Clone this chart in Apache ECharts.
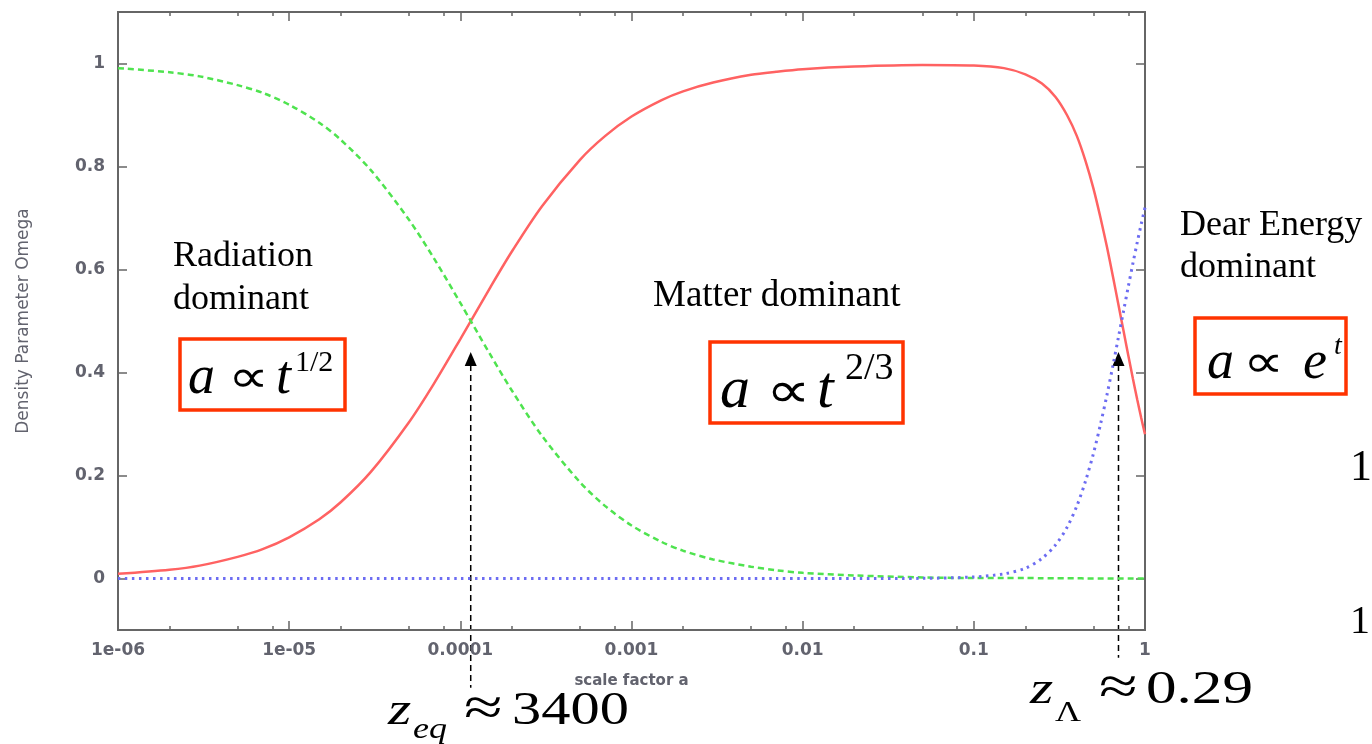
<!DOCTYPE html>
<html>
<head>
<meta charset="utf-8">
<script src="https://cdn.jsdelivr.net/npm/echarts@6/dist/echarts.min.js"></script>
<style>
html,body{margin:0;padding:0;background:#fff}
#main{width:1372px;height:744px}
</style>
</head>
<body>
<div id="main"></div>
<script>
// scale factor a (x) and the three density parameters
var scaleFactor = [1e-6, 2e-6, 3e-6, 5e-6, 7e-6, 1e-5, 1.5e-5, 2e-5, 3e-5, 5e-5, 7e-5,
    1e-4, 1.5e-4, 2e-4, 3e-4, 5e-4, 7e-4, 1e-3, 1.5e-3, 2e-3, 3e-3, 5e-3, 7e-3,
    0.01, 0.02, 0.05, 0.1, 0.15, 0.2, 0.25, 0.3, 0.35, 0.4, 0.45, 0.5, 0.55, 0.6,
    0.65, 0.7, 0.75, 0.8, 0.85, 0.9, 0.95, 1];
var omegaMatter = [0.009, 0.017, 0.025, 0.042, 0.057, 0.080, 0.115, 0.148, 0.207, 0.303, 0.378,
    0.465, 0.566, 0.635, 0.723, 0.813, 0.859, 0.897, 0.929, 0.946, 0.963, 0.978, 0.984,
    0.989, 0.994, 0.997, 0.996, 0.991, 0.979, 0.961, 0.935, 0.900, 0.859, 0.810, 0.757, 0.700, 0.643,
    0.586, 0.531, 0.480, 0.432, 0.388, 0.348, 0.312, 0.280];
var omegaRadiation = [0.991, 0.983, 0.975, 0.958, 0.943, 0.920, 0.885, 0.852, 0.793, 0.697, 0.622,
    0.535, 0.434, 0.365, 0.277, 0.187, 0.141, 0.103, 0.071, 0.054, 0.037, 0.023, 0.016,
    0.011, 0.006, 0.002, 0.001, 0.001, 0.001, 0.0005, 0.0004, 0.0003, 0.0003, 0.0002, 0.0002, 0.0002, 0.0002,
    0.0001, 0.0001, 0.0001, 0.0001, 0.0001, 0.0001, 0.0001, 0.0001];
var omegaLambda = [0, 0, 0, 0, 0, 0, 0, 0, 0, 0, 0,
    0, 0, 0, 0, 0, 0, 0, 0, 0, 0, 0, 0,
    0, 0, 0.0003, 0.003, 0.009, 0.020, 0.039, 0.065, 0.099, 0.141, 0.190, 0.243, 0.300, 0.357,
    0.414, 0.469, 0.520, 0.568, 0.612, 0.652, 0.688, 0.720];

var xMajorTicks = [1e-6, 1e-5, 1e-4, 1e-3, 1e-2, 1e-1, 1];
var xMinorTicks = [2e-6, 5e-6, 8e-6, 2e-5, 5e-5, 8e-5, 2e-4, 5e-4, 8e-4,
    2e-3, 5e-3, 8e-3, 2e-2, 5e-2, 8e-2, 0.2, 0.5, 0.8];
var xTickLabels = ['1e-06', '1e-05', '0.0001', '0.001', '0.01', '0.1', '1'];
var yTicks = [0, 0.2, 0.4, 0.6, 0.8, 1];
var yTickLabels = ['0', '0.2', '0.4', '0.6', '0.8', '1'];

// equality epochs marked with arrows (scale factor)
var arrowA = [1.15e-4, 0.70];

function pairs(ys) {
    return scaleFactor.map(function (a, i) { return [a, ys[i]]; });
}

var axisGray = '#666';
var labelFont = {fontFamily: 'DejaVu Sans', fontSize: 17, fontWeight: 'bold', color: '#62636e'};

function xAx(pos, ticks, len, withLabels) {
    return {
        type: 'log', logBase: 10, min: 1e-6, max: 1, position: pos,
        axisLine: {show: true, onZero: false, lineStyle: {color: axisGray, width: 2}},
        axisTick: {show: true, inside: true, length: len, customValues: ticks,
            lineStyle: {color: axisGray, width: 1.5}},
        axisLabel: withLabels ? Object.assign({
            show: true, margin: 12, customValues: xMajorTicks,
            formatter: function (v) { return xTickLabels[Math.round(Math.log10(v)) + 6]; }
        }, labelFont) : {show: false},
        splitLine: {show: false},
        name: withLabels ? 'scale factor a' : '',
        nameLocation: 'middle', nameGap: 44,
        nameTextStyle: {fontFamily: 'DejaVu Sans', fontSize: 15, fontWeight: 'bold', color: '#62636e'}
    };
}

function yAx(pos, withLabels) {
    return {
        type: 'value', min: -0.1, max: 1.1, position: pos,
        axisLine: {show: true, onZero: false, lineStyle: {color: axisGray, width: 2}},
        axisTick: {show: true, inside: true, length: 9, customValues: yTicks,
            lineStyle: {color: axisGray, width: 1.5}},
        axisLabel: withLabels ? Object.assign({
            show: true, margin: 13, customValues: yTicks,
            formatter: function (v) { return yTickLabels[Math.round(v * 5)]; }
        }, labelFont) : {show: false},
        splitLine: {show: false},
        name: withLabels ? 'Density Parameter Omega' : '',
        nameLocation: 'middle', nameGap: 86,
        nameTextStyle: {fontFamily: 'DejaVu Sans', fontSize: 17, color: '#62636e'}
    };
}

var chart = echarts.init(document.getElementById('main'));
var option = {
    backgroundColor: '#fff',
    animation: false,
    grid: {left: 118, right: 227, top: 12, bottom: 114},
    xAxis: [
        xAx('bottom', xMajorTicks, 9, true),
        xAx('bottom', xMinorTicks, 4, false),
        xAx('top', xMajorTicks, 9, false),
        xAx('top', xMinorTicks, 4, false)
    ],
    yAxis: [yAx('left', true), yAx('right', false)],
    series: [
        {
            name: 'matter', type: 'line', data: pairs(omegaMatter), showSymbol: false, smooth: 0.3,
            lineStyle: {color: '#ff6262', width: 2.5}
        },
        {
            name: 'radiation', type: 'line', data: pairs(omegaRadiation), showSymbol: false, smooth: 0.3,
            lineStyle: {color: '#4fe34f', width: 2.5, type: [6, 4]}
        },
        {
            name: 'dark energy', type: 'line', data: pairs(omegaLambda), showSymbol: false, smooth: 0.3,
            lineStyle: {color: '#6c6cf2', width: 3, type: [2.5, 4.5]}
        }
    ]
};
chart.setOption(option);

// annotations
var serif = '"Liberation Serif", "Times New Roman", serif';
function txt(x, base, str, size, italic, sx) {
    return {
        type: 'text', x: x, y: base - 0.34 * size, scaleX: sx || 1,
        style: {
            text: str, fill: '#000', align: 'left', verticalAlign: 'middle',
            font: (italic ? 'italic ' : '') + size + 'px ' + serif
        }
    };
}
function box(x, y, w, h) {
    return {type: 'rect', shape: {x: x, y: y, width: w, height: h},
        style: {fill: 'none', stroke: '#ff3300', lineWidth: 3.5}};
}
function arrow(a, tipW, endW) {
    var tip = chart.convertToPixel({seriesIndex: 0}, [a, tipW]);
    var end = chart.convertToPixel({seriesIndex: 0}, [a, endW]);
    return [
        {type: 'line', shape: {x1: tip[0], y1: tip[1] + 13, x2: end[0], y2: end[1]},
            style: {stroke: '#000', lineWidth: 1.5, lineDash: [6, 4]}},
        {type: 'polygon', shape: {points: [[tip[0], tip[1]], [tip[0] - 6, tip[1] + 14], [tip[0] + 6, tip[1] + 14]]},
            style: {fill: '#000'}}
    ];
}

var g = [];
g.push(txt(173, 269, 'Radiation', 36));
g.push(txt(173, 312, 'dominant', 36));
g.push(box(180, 339, 165, 71));
g.push(txt(188, 397, 'a', 54, true));
g.push(txt(228, 396, '\u221D', 46, false, 1.25));
g.push(txt(276, 397, 't', 54, true));
g.push(txt(295, 373, '1/2', 30));

g.push(txt(653, 309, 'Matter dominant', 37));
g.push(box(710, 342, 193, 81));
g.push(txt(720, 412, 'a', 60, true));
g.push(txt(766, 411, '\u221D', 50, false, 1.25));
g.push(txt(817, 412, 't', 60, true));
g.push(txt(845, 382, '2/3', 38));

g.push(txt(1180, 238, 'Dear Energy', 36));
g.push(txt(1180, 280, 'dominant', 36));
g.push(box(1195, 318, 151, 76));
g.push(txt(1207, 382, 'a', 54, true));
g.push(txt(1243, 381, '\u221D', 46, false, 1.25));
g.push(txt(1303, 382, 'e', 54, true));
g.push(txt(1334, 356, 't', 28, true));

g.push(txt(1350, 483, '1', 44));
g.push(txt(1350, 636, '1', 40));

g.push(txt(388, 728, 'z', 46, true, 1.3));
g.push(txt(413, 740, 'eq', 30, true, 1.2));
g.push(txt(464, 729, '\u2248', 54, false, 1.3));
g.push(txt(512, 728, '3400', 46, false, 1.27));

g.push(txt(1030, 707, 'z', 46, true, 1.3));
g.push(txt(1055, 723, '\u039B', 30, false, 1.2));
g.push(txt(1099, 708, '\u2248', 54, false, 1.3));
g.push(txt(1146, 707, '0.29', 47, false, 1.3));

g = g.concat(arrow(arrowA[0], 0.44, -0.212));
g = g.concat(arrow(arrowA[1], 0.44, -0.154));

chart.setOption({graphic: g});
</script>
</body>
</html>
